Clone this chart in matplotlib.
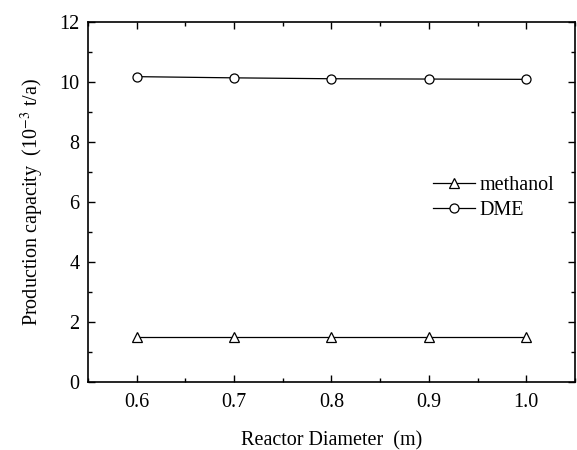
import matplotlib
matplotlib.use('Agg')
import matplotlib.pyplot as plt
from matplotlib.ticker import MultipleLocator

# Data
diameter = [0.6, 0.7, 0.8, 0.9, 1.0]
methanol = [1.51, 1.51, 1.51, 1.51, 1.51]
dme = [10.18, 10.14, 10.11, 10.10, 10.09]

plt.rcParams['font.family'] = ['Liberation Serif', 'DejaVu Serif']
plt.rcParams['mathtext.fontset'] = 'stix'
fsize = 14.5

fig = plt.figure(figsize=(5.77, 4.5), dpi=100)
ax = fig.add_axes([0.1525, 0.151, 0.844, 0.8])

ax.plot(diameter, methanol, '-^', color='black', lw=0.9, ms=7,
        mfc='white', mec='black', mew=0.9, label='methanol')
ax.plot(diameter, dme, '-o', color='black', lw=0.9, ms=6.5,
        mfc='white', mec='black', mew=0.9, label='DME')

ax.set_xlim(0.55, 1.05)
ax.set_ylim(0, 12)
ax.xaxis.set_major_locator(MultipleLocator(0.1))
ax.xaxis.set_minor_locator(MultipleLocator(0.05))
ax.yaxis.set_major_locator(MultipleLocator(2))
ax.yaxis.set_minor_locator(MultipleLocator(1))
ax.xaxis.set_major_formatter(plt.FuncFormatter(lambda v, p: f"{v:.1f}"))

ax.tick_params(which='both', direction='in', top=True, right=True,
               labelsize=fsize, width=1)
ax.tick_params(axis='x', which='major', length=5, pad=8)
ax.tick_params(axis='y', which='major', length=5, pad=6)
ax.tick_params(which='minor', length=3)
for spine in ax.spines.values():
    spine.set_linewidth(1.2)

ax.set_xlabel('Reactor Diameter  (m)', fontsize=fsize, labelpad=14)
ax.set_ylabel(r'Production capacity  (10$^{-3}$ t/a)', fontsize=fsize, labelpad=10)

ax.legend(loc='center left', bbox_to_anchor=(0.708, 0.511), frameon=False,
          fontsize=fsize, handlelength=2.1, handletextpad=0.2, labelspacing=0.3,
          borderpad=0, borderaxespad=0)

fig.savefig('out.png', dpi=100)
